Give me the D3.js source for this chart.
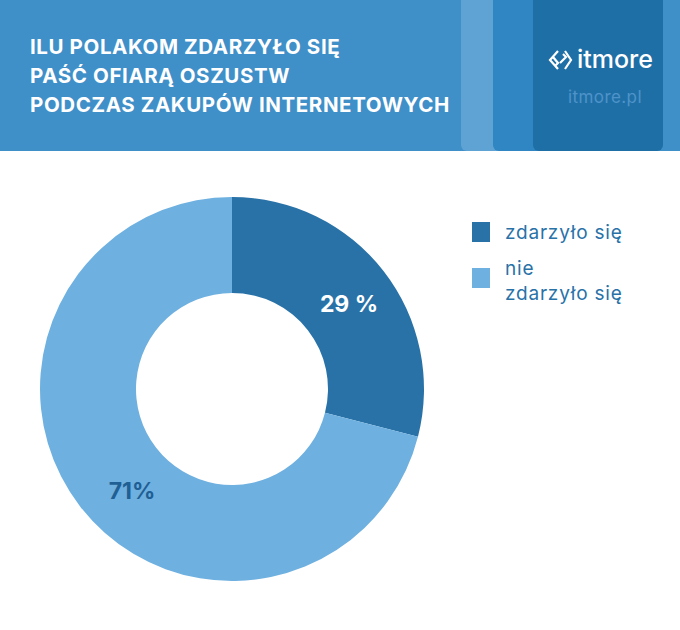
<!DOCTYPE html>
<html><head><meta charset="utf-8">
<script src="https://cdn.jsdelivr.net/npm/d3@7"></script>
<style>body{margin:0;background:#fff}svg{display:block;font-family:Inter,"Open Sans",sans-serif}</style>
</head><body>
<script>
var categories = ['zdarzyło się', 'nie zdarzyło się'];
var values = [29, 71];
var valueLabels = ['29 %', '71%'];
var titleLines = ['ILU POLAKOM ZDARZYŁO SIĘ', 'PAŚĆ OFIARĄ OSZUSTW', 'PODCZAS ZAKUPÓW INTERNETOWYCH'];
var colors = ['#2872a8', '#6eb0e0'];

var svg = d3.select('body').append('svg').attr('width', 680).attr('height', 630);

// header
svg.append('rect').attr('width', 680).attr('height', 151).attr('fill', '#3f8fc9');
[[461, '#5ea3d3'], [493, '#2f86c3'], [533, '#1f6fa7']].forEach(function(c) {
    svg.append('rect').attr('x', c[0]).attr('y', -10).attr('width', 130).attr('height', 161)
       .attr('rx', 6).attr('fill', c[1]);
});
svg.append('text').attr('x', 30).attr('y', 36).attr('fill', '#fff')
   .attr('font-size', 20.5).attr('font-weight', 700).attr('letter-spacing', 0.6)
   .selectAll('tspan').data(titleLines).join('tspan')
   .attr('x', 30).attr('dy', function(d, i) { return i ? 29 : 18; }).text(function(d) { return d; });

var logo = svg.append('g').attr('transform', 'translate(550,60)');
logo.append('path').attr('d', 'M8,-9 L0,0 L8,9 M3,-3 L8,3 L5,6 M13,-6 L16,-3 L10,3 M15,-9 L21,0 L15,9')
    .attr('fill', 'none').attr('stroke', '#fff').attr('stroke-width', 2.2);
logo.append('text').attr('x', 27).attr('y', 8).attr('fill', '#fff').attr('font-size', 25)
    .attr('font-weight', 500).text('itmore');
svg.append('text').attr('x', 605).attr('y', 103).attr('text-anchor', 'middle')
   .attr('fill', '#4e93c9').attr('font-size', 17).attr('letter-spacing', 0.4).text('itmore.pl');

// donut
var cx = 232, cy = 389;
var pie = d3.pie().sort(null)(values);
var arc = d3.arc().innerRadius(96).outerRadius(192);
var g = svg.append('g').attr('transform', 'translate(' + cx + ',' + cy + ')');
g.selectAll('path').data(pie).join('path').attr('d', arc)
 .attr('fill', function(d, i) { return colors[i]; });
var labelPos = [[117, -77], [-100, 110]];
g.selectAll('text.v').data(pie).join('text')
 .attr('x', function(d, i) { return labelPos[i][0]; }).attr('y', function(d, i) { return labelPos[i][1]; })
 .attr('text-anchor', 'middle').attr('font-size', 23).attr('font-weight', 700)
 .attr('fill', function(d, i) { return i ? '#1f5f94' : '#fff'; })
 .text(function(d, i) { return valueLabels[i]; });

// legend
var leg = svg.append('g');
[[222, ['zdarzyło się']], [268, ['nie', 'zdarzyło się']]].forEach(function(l, i) {
    leg.append('rect').attr('x', 472).attr('y', l[0]).attr('width', 18).attr('height', 20).attr('fill', colors[i]);
    leg.append('text').attr('fill', '#2872a8').attr('font-size', 19).attr('letter-spacing', 0.8)
       .selectAll('tspan').data(l[1]).join('tspan').attr('x', 505)
       .attr('y', function(d, j) { return l[0] + 17 - (l[1].length > 1 ? 10 : 0) + j * 25; })
       .text(function(d) { return d; });
});
</script>
</body></html>
